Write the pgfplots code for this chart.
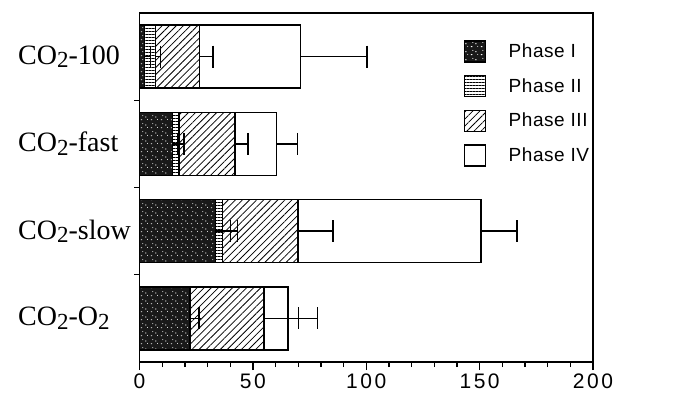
\documentclass[border=0pt]{standalone}
\usepackage{fontspec}
\setmainfont{Liberation Serif}
\setsansfont{Liberation Sans}
\usepackage{pgfplots}
\pgfplotsset{compat=1.18}
\usetikzlibrary{patterns,patterns.meta}
\tikzdeclarepattern{
  name=speckle, type=uncolored,
  bounding box={(0,0) and (10bp,8bp)},
  tile size={(10bp,8bp)},
  code={
    \fill (1bp,1bp) rectangle (2.4bp,1.9bp);
    \fill (5.5bp,4.2bp) rectangle (7bp,5bp);
    \fill (3bp,6bp) circle (0.55bp);
    \fill (8.2bp,1.8bp) circle (0.5bp);
  }
}
\newcommand\two{\raisebox{-3.5bp}{\fontsize{23bp}{23bp}\selectfont 2}}
\begin{document}
\begin{tikzpicture}[x=1bp,y=1bp]
\path[use as bounding box] (-139.5,-38) rectangle (536.5,362);
\begin{axis}[
  at={(0,0)}, anchor=south west,
  scale only axis, width=453.5bp, height=349bp,
  xmin=0, xmax=200, ymin=-0.5, ymax=3.5,
  xbar stacked, bar width=63bp,
  axis line style={line width=1.6bp},
  xtick={0,50,100,150,200}, minor x tick num=4,
  ytick={0,1,2,3},
  yticklabels={CO\two-O\two, CO\two-slow, CO\two-fast, CO\two-100},
  minor ytick={0.5,1.5,2.5},
  tick align=outside, xtick pos=bottom, ytick pos=left,
  major tick length=8bp, minor tick length=5bp,
  every tick/.style={black, line width=1.3bp},
  major y tick style={draw=none},
  /pgf/number format/assume math mode=true,
  xticklabel style={font=\fontsize{21bp}{23bp}\selectfont\sffamily\addfontfeature{LetterSpace=12}},
  yticklabel style={font=\fontsize{28bp}{30bp}\selectfont\rmfamily, inner sep=0pt, anchor=west, xshift=-113.5bp},
  legend style={draw=none, fill=none, at={(0.7155,0.922)}, anchor=north west,
    inner sep=0pt, row sep=12.3bp,
    nodes={inner sep=0pt, anchor=west, font=\fontsize{19bp}{21bp}\selectfont\sffamily\addfontfeature{LetterSpace=3}}},
  legend cell align=left,
  legend image code/.code={
    \draw[#1, line width=1.3bp] (0bp,-10.5bp) rectangle (21bp,10.5bp);
    \path (43bp,0bp);
  },
  error bars/x dir=plus, error bars/x explicit,
  error bars/error bar style={line width=1.4bp, black},
  error bars/error mark options={rotate=90, mark size=11bp, line width=1.4bp, black},
]
% Phase I
\addplot+[draw=black, line width=1.6bp, fill=black!90,
  postaction={pattern=speckle, pattern color=white}]
  coordinates {(22.4,0) +- (3.9,0) (33.6,1) +- (6.5,0) (14.5,2) +- (2.2,0) (2.2,3) +- (2.6,0)};
% Phase II
\addplot+[draw=black, line width=1.6bp, fill=white,
  pattern={Lines[angle=0, distance=3bp, line width=0.7bp]}, pattern color=black]
  coordinates {(0,0) +- (0,0) (3.0,1) +- (6.6,0) (3.0,2) +- (2.2,0) (4.8,3) +- (2.2,0)};
% Phase III
\addplot+[draw=black, line width=1.6bp, fill=white,
  pattern={Lines[angle=45, distance=5bp, line width=0.8bp]}, pattern color=black]
  coordinates {(32.4,0) +- (15.4,0) (33.4,1) +- (15.3,0) (24.5,2) +- (5.8,0) (19.4,3) +- (6.1,0)};
% Phase IV
\addplot+[draw=black, line width=1.6bp, fill=white]
  coordinates {(10.6,0) +- (13.1,0) (80.7,1) +- (15.7,0) (18.5,2) +- (9.2,0) (44.6,3) +- (29.4,0)};
\legend{Phase I, Phase II, Phase III, Phase IV}
\end{axis}
\end{tikzpicture}
\end{document}
